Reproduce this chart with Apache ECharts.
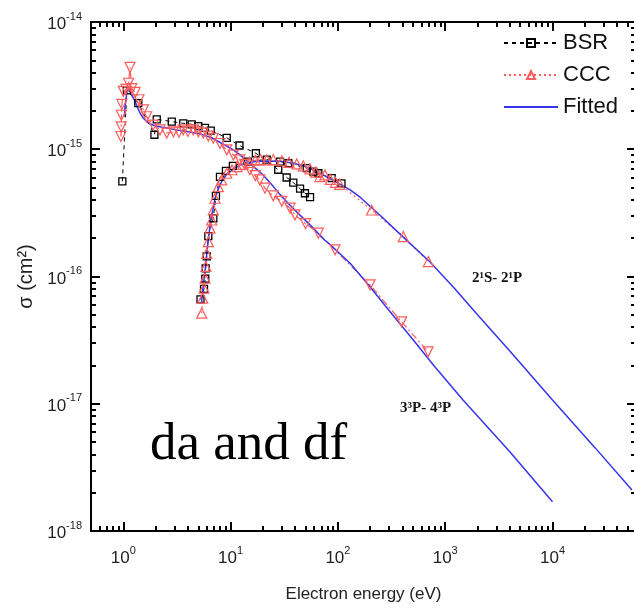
<!DOCTYPE html>
<html><head><meta charset="utf-8">
<script src="https://cdn.jsdelivr.net/npm/echarts@6/dist/echarts.min.js"></script>
<style>html,body{margin:0;padding:0;background:#fff}#c{width:634px;height:609px}</style>
</head><body><div id="c"></div>
<script>
// ---- axis ranges / ticks ----
const X_MIN = 0.5, X_MAX = 6e4, Y_MIN = 1e-18, Y_MAX = 1e-14;
const xMajorTicks = [1, 10, 100, 1000, 10000];
const xMinorTicks = [0.6,0.7,0.8,0.9, 2,3,4,5,6,7,8,9, 20,30,40,50,60,70,80,90,
  200,300,400,500,600,700,800,900, 2000,3000,4000,5000,6000,7000,8000,9000, 20000,30000,40000,50000];
const yMajorTicks = [1e-18, 1e-17, 1e-16, 1e-15, 1e-14];
const yMinorTicks = [2e-18,3e-18,4e-18,5e-18,6e-18,7e-18,8e-18,9e-18,
  2e-17,3e-17,4e-17,5e-17,6e-17,7e-17,8e-17,9e-17,
  2e-16,3e-16,4e-16,5e-16,6e-16,7e-16,8e-16,9e-16,
  2e-15,3e-15,4e-15,5e-15,6e-15,7e-15,8e-15,9e-15];

// ---- BSR (black squares) ----
const bsrA_E = [0.98,1.08,1.38,1.95,2.05,2.83,3.62,4.34,5.0,5.77,6.53,9.2,12.1,17.2,27.8,33.3,38.4,44.4,49.3,55];
const bsrA_S = [5.6e-16,2.9e-15,2.3e-15,1.3e-15,1.72e-15,1.65e-15,1.6e-15,1.57e-15,1.52e-15,1.47e-15,1.4e-15,1.23e-15,1.07e-15,9.3e-16,6.9e-16,6.0e-16,5.47e-16,4.9e-16,4.51e-16,4.2e-16];
const bsrB_E = [5.24,5.65,5.81,5.86,5.99,6.2,6.9,7.3,7.96,9.05,10.5,14.5,21.7,28.9,34.5,51.2,59,65.7,87.5,108];
const bsrB_S = [6.6e-17,8.0e-17,9.6e-17,1.16e-16,1.44e-16,2.08e-16,2.87e-16,4.3e-16,6.06e-16,6.76e-16,7.4e-16,8.0e-16,8.3e-16,8.0e-16,7.76e-16,7.1e-16,6.67e-16,6.48e-16,5.92e-16,5.4e-16];

// ---- CCC (red triangles) ----
const cccA_E = [0.95,0.955,0.96,0.97,1.0,1.06,1.12,1.155,1.2,1.29,1.4,1.54,1.65,1.9,2.2,2.54,2.93,3.3,3.62,4.0,4.49,5.0,5.56,6.2,6.9,7.96,9.2,10.6,12.2,13.5,15.1,17,18.7,20.9,25,30,35.8,39.8,50,65.8,94,199,393,692];
const cccA_S = [1.26e-15,1.5e-15,1.85e-15,2.25e-15,2.85e-15,2.95e-15,3.3e-15,4.4e-15,3.0e-15,2.8e-15,2.45e-15,2.04e-15,1.8e-15,1.55e-15,1.42e-15,1.34e-15,1.37e-15,1.36e-15,1.42e-15,1.38e-15,1.42e-15,1.37e-15,1.34e-15,1.27e-15,1.22e-15,1.11e-15,9.9e-16,9.0e-16,8.24e-16,7.6e-16,6.9e-16,6.2e-16,5.74e-16,4.94e-16,4.3e-16,3.9e-16,3.44e-16,3.05e-16,2.6e-16,2.19e-16,1.62e-16,8.6e-17,4.4e-17,2.56e-17];
const cccB_E = [5.38,5.5,5.65,5.78,5.88,5.99,6.2,6.43,6.67,6.9,7.16,7.68,8.26,9.2,10.3,11.5,13,15,17,19,21.7,25,30,35,41.4,47.6,55,62,68,75.7,85,95,104,206,407,697];
const cccB_S = [5.15e-17,6.76e-17,8.1e-17,9.7e-17,1.2e-16,1.52e-16,1.88e-16,2.4e-16,2.78e-16,3.34e-16,4.12e-16,5.08e-16,5.74e-16,6.48e-16,6.9e-16,7.3e-16,7.6e-16,7.9e-16,8.2e-16,8.3e-16,8.24e-16,8.3e-16,8.1e-16,7.9e-16,7.67e-16,7.4e-16,7.0e-16,6.6e-16,6.1e-16,6.28e-16,5.8e-16,5.5e-16,5.3e-16,3.33e-16,2.06e-16,1.31e-16];

// ---- Fitted (blue lines) ----
const fitA_E = [1.02,1.04,1.07,1.1,1.13,1.17,1.22,1.29,1.36,1.43,1.53,1.65,1.8,1.97,2.3,2.63,3.1,3.62,4.3,5.2,6.5,8.5,10.6,12.5,14.5,17,20,24,28.9,34,40,48,58.9,72,90,130,199,300,500,800,1466,2500,4000,6500,10000];
const fitA_S = [1.8e-15,2.2e-15,2.65e-15,2.95e-15,2.95e-15,2.8e-15,2.6e-15,2.37e-15,2.12e-15,1.93e-15,1.76e-15,1.65e-15,1.57e-15,1.53e-15,1.49e-15,1.46e-15,1.42e-15,1.39e-15,1.36e-15,1.32e-15,1.24e-15,1.1e-15,9.9e-16,8.9e-16,8.0e-16,7.1e-16,6.3e-16,5.3e-16,4.4e-16,3.8e-16,3.3e-16,2.85e-16,2.4e-16,2.0e-16,1.7e-16,1.27e-16,8.3e-17,5.4e-17,3.2e-17,1.95e-17,1.07e-17,6.5e-18,4.2e-18,2.6e-18,1.7e-18];
const fitB_E = [5.36,5.5,5.65,5.8,5.99,6.2,6.43,6.75,7.16,7.7,8.28,9.2,10.6,12.2,14.1,17,21.7,28,38.2,50,68,90,130,161,250,404,722,1200,2000,4000,10000,25000,55000];
const fitB_S = [6.3e-17,7.8e-17,9.5e-17,1.15e-16,1.5e-16,1.95e-16,2.5e-16,3.2e-16,4.1e-16,4.9e-16,5.6e-16,6.35e-16,7.0e-16,7.5e-16,7.8e-16,8.0e-16,8.1e-16,8.05e-16,7.8e-16,7.3e-16,6.5e-16,5.7e-16,4.8e-16,4.2e-16,3.0e-16,2.05e-16,1.3e-16,8.2e-17,5.0e-17,2.6e-17,1.07e-17,4.5e-18,2.1e-18];

const zip = (xs, ys) => xs.map((x, i) => [x, ys[i]]);
const FONT = 'Liberation Sans';
const RED = '#ff5c5c', BLUE = '#3535ee';

function powLabel(v) {
  const e = Math.round(Math.log10(v));
  return '{b|10}{s|' + e + '}';
}
const labelRich = {
  b: { fontSize: 17, fontFamily: FONT, color: '#222', lineHeight: 22, verticalAlign: 'bottom' },
  s: { fontSize: 11, fontFamily: FONT, color: '#222', lineHeight: 11, verticalAlign: 'top' }
};

function mkAxis(kind, pos, major, withLabel, extra) {
  const isX = kind === 'x';
  const ax = {
    type: 'log', logBase: 10,
    min: isX ? X_MIN : Y_MIN, max: isX ? X_MAX : Y_MAX,
    position: pos,
    splitLine: { show: false },
    minorTick: { show: false },
    axisLine: { show: major, onZero: false, lineStyle: { color: '#000', width: 2 } },
    axisTick: {
      show: true, inside: true, length: major ? 9 : 5,
      lineStyle: { color: '#000', width: 2 },
      customValues: major ? (isX ? xMajorTicks : yMajorTicks) : (isX ? xMinorTicks : yMinorTicks)
    },
    axisLabel: withLabel ? {
      show: true, customValues: isX ? xMajorTicks : yMajorTicks,
      formatter: powLabel, rich: labelRich, margin: isX ? 14 : 9
    } : { show: false }
  };
  return Object.assign(ax, extra || {});
}

const series = [
  { name: 'BSR', type: 'line', data: zip(bsrA_E, bsrA_S), symbol: 'rect', symbolSize: 7,
    lineStyle: { color: '#000', width: 1, type: [4, 4] },
    itemStyle: { color: 'transparent', borderColor: '#000', borderWidth: 1.3 } },
  { name: 'BSR', type: 'line', data: zip(bsrB_E, bsrB_S), symbol: 'rect', symbolSize: 7,
    lineStyle: { color: '#000', width: 1, type: [4, 4] },
    itemStyle: { color: 'transparent', borderColor: '#000', borderWidth: 1.3 } },
  { name: 'CCC', type: 'line', data: zip(cccB_E, cccB_S), symbol: 'triangle', symbolSize: 10,
    lineStyle: { color: RED, width: 1.2, type: [2, 3] },
    itemStyle: { color: 'transparent', borderColor: RED, borderWidth: 1.2 } },
  { name: 'CCC', type: 'line', data: zip(cccA_E, cccA_S), symbol: 'triangle', symbolRotate: 180, symbolSize: 10,
    lineStyle: { color: RED, width: 1.2, type: [7, 3, 2, 3] },
    itemStyle: { color: 'transparent', borderColor: RED, borderWidth: 1.2 } },
  { name: 'Fitted', type: 'line', data: zip(fitA_E, fitA_S), symbol: 'none',
    lineStyle: { color: BLUE, width: 1.5 }, itemStyle: { color: BLUE } },
  { name: 'Fitted', type: 'line', data: zip(fitB_E, fitB_S), symbol: 'none',
    lineStyle: { color: BLUE, width: 1.5 }, itemStyle: { color: BLUE } }
];

const chart = echarts.init(document.getElementById('c'), null, { renderer: 'canvas' });
chart.setOption({
  animation: false,
  backgroundColor: '#fff',
  grid: { left: 91, top: 22, right: -2, bottom: 78, containLabel: false, outerBoundsMode: 'none' },
  xAxis: [
    mkAxis('x', 'bottom', true, true, {
      name: 'Electron energy (eV)', nameLocation: 'middle', nameGap: 55,
      nameTextStyle: { fontSize: 17, fontFamily: FONT, color: '#222' }
    }),
    mkAxis('x', 'bottom', false, false),
    mkAxis('x', 'top', true, false),
    mkAxis('x', 'top', false, false)
  ],
  yAxis: [
    mkAxis('y', 'left', true, true, {
      name: 'σ (cm²)', nameLocation: 'middle', nameGap: 54, nameRotate: 90,
      nameTextStyle: { fontSize: 20, fontFamily: FONT, color: '#222' }
    }),
    mkAxis('y', 'left', false, false),
    mkAxis('y', 'right', true, false),
    mkAxis('y', 'right', false, false)
  ],
  legend: {
    data: ['BSR', 'CCC', { name: 'Fitted', itemStyle: { color: 'transparent', borderColor: 'transparent', borderWidth: 0, opacity: 0 } }],
    orient: 'vertical', left: 503, top: 32,
    itemWidth: 54, itemHeight: 10, itemGap: 10, padding: 0,
    textStyle: { fontSize: 22, fontFamily: FONT, color: '#111' }
  },
  graphic: [
    { type: 'text', left: 472, top: 271, style: { text: '2¹S- 2¹P', font: 'bold 15px "Liberation Serif"', fill: '#111' } },
    { type: 'text', left: 400, top: 401, style: { text: '3³P- 4³P', font: 'bold 15px "Liberation Serif"', fill: '#111' } },
    { type: 'text', left: 150, top: 419, style: { text: 'da and df', font: '53px "Liberation Serif"', fill: '#000' } }
  ],
  series: series
});
</script>
</body></html>
